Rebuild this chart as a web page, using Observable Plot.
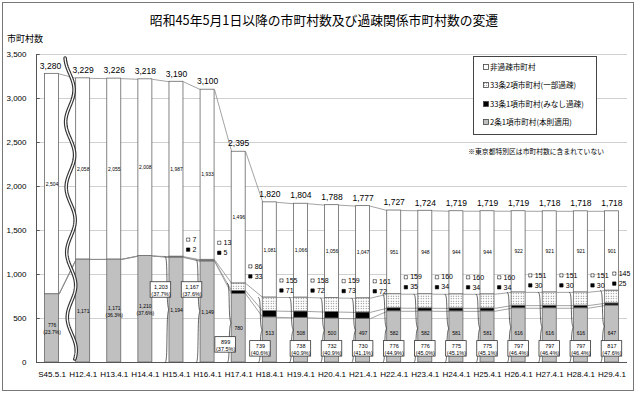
<!DOCTYPE html>
<html><head><meta charset="utf-8">
<script src="https://cdn.jsdelivr.net/npm/d3@7"></script>
<script src="https://cdn.jsdelivr.net/npm/@observablehq/plot@0.6"></script>
<style>
body{margin:0;background:#fff;}
#wrap{position:relative;width:640px;height:395px;overflow:hidden;font-family:"Liberation Sans","Noto Sans CJK JP",sans-serif;color:#000;}
#frame{position:absolute;left:2px;top:2px;width:632px;height:389px;border:1px solid #777;box-sizing:border-box;pointer-events:none;}
#title{position:absolute;left:0;width:648px;top:12px;text-align:center;font-size:12.8px;line-height:16px;font-family:"Noto Sans CJK JP",sans-serif;}
#ylab{position:absolute;left:7px;top:33px;font-size:9px;line-height:12px;font-family:"Noto Sans CJK JP",sans-serif;}
#chart{position:absolute;left:0;top:0;}
#legend{position:absolute;left:473px;top:56px;width:124px;height:79px;border:1px solid #444;background:#fff;box-sizing:border-box;font-size:7.6px;font-family:"Noto Sans CJK JP",sans-serif;}
#legend .it{position:absolute;left:9px;height:10px;line-height:10px;white-space:nowrap;}
#note{position:absolute;right:36px;top:146px;font-size:6.8px;line-height:10px;font-family:"Noto Sans CJK JP",sans-serif;white-space:nowrap;}
</style></head>
<body>
<svg width="0" height="0" style="position:absolute">
  <defs>
    <pattern id="dots" width="2.5" height="2.5" patternUnits="userSpaceOnUse">
      <rect width="2.5" height="2.5" fill="#fff"/>
      <circle cx="1.2" cy="1.2" r="0.55" fill="#666"/>
    </pattern>
  </defs>
</svg>
<div id="wrap">
  <div id="chart"></div>
  <div id="title"></div>
  <div id="ylab"></div>
  <div id="legend"></div>
  <div id="note"></div>
  <div id="frame"></div>
</div>
<script>
// ---- data ----
const titleText = "昭和45年5月1日以降の市町村数及び過疎関係市町村数の変遷";
const yAxisTitle = "市町村数";
const noteText = "※東京都特別区は市町村数に含まれていない";
const categories = ["S45.5.1","H12.4.1","H13.4.1","H14.4.1","H15.4.1","H16.4.1","H17.4.1","H18.4.1","H19.4.1","H20.4.1","H21.4.1","H22.4.1","H23.4.1","H24.4.1","H25.4.1","H26.4.1","H27.4.1","H28.4.1","H29.4.1"];
const totalCount     = [3280,3229,3226,3218,3190,3100,2395,1820,1804,1788,1777,1727,1724,1719,1719,1719,1718,1718,1718];
const nonDepopulated = [2504,2058,2055,2008,1987,1933,1496,1081,1066,1056,1047,951,948,944,944,922,921,921,901];
const art33p2        = [0,0,0,0,7,13,86,155,158,159,161,159,160,160,160,151,151,151,145];   // 33条2項（一部過疎）
const art33p1        = [0,0,0,0,2,5,33,71,72,73,72,35,34,34,34,30,30,30,25];              // 33条1項（みなし過疎）
const art2p1         = [776,1171,1171,1210,1194,1149,780,513,508,500,497,582,582,581,581,616,616,616,647]; // 2条1項（本則適用）
const depopShare     = ["23.7%",null,"36.3%","37.6%","37.7%","37.6%","37.5%","40.6%","40.9%","40.9%","41.1%","44.9%","45.0%","45.1%","45.1%","46.4%","46.4%","46.4%","47.6%"];
const yTicks = [0,500,1000,1500,2000,2500,3000,3500];
const legendLabels = ["非過疎市町村","33条2項市町村(一部過疎)","33条1項市町村(みなし過疎)","2条1項市町村(本則適用)"];

// ---- derived table ----
const fmt = d3.format(",");
const rows = categories.map((c, i) => {
  const h = art2p1[i], m = art33p1[i], p = art33p2[i];
  return {i, c, total: totalCount[i], non: nonDepopulated[i], h, m, p, hm: h + m, depop: h + m + p, share: depopShare[i]};
});
const pairs = rows.slice(0, -1).map((r, k) => ({a: r, b: rows[k + 1]}));
const hw = 0.225;               // half bar width (in band units)
const last = categories.length - 1;
const boxed = rows.filter(d => d.i >= 4);
const boxX = d => d.i <= 5 ? d.i - 0.5 : d.i === 6 ? d.i - 0.42 : d.i === 7 ? d.i - 0.3 : d.i;
const boxY = d => d.i <= 5 ? 824 : d.i === 6 ? 200 : 155;
const grayLabelY = d => d.i >= 7 ? Math.max(d.h / 2, 335) : d.h / 2;
const sideX = d => d.i + hw + 0.15 - (d.i === last ? 0.3 : 0);
const braceX = d => d.i - hw - 0.08;
const braceU = 28;
const braces = boxed.flatMap(d => {
  const x = braceX(d), t = d.depop, mid = d.depop / 2;
  return [
    {k: d.i, x: x - 0.06, y: t}, {k: d.i, x: x, y: t - braceU},
    {k: d.i, x: x, y: mid + braceU}, {k: d.i, x: x + 0.08, y: mid},
    {k: d.i, x: x, y: mid - braceU}, {k: d.i, x: x, y: braceU},
    {k: d.i, x: x - 0.06, y: 0}
  ];
});
// decorative break symbol between S45 and H12
const wave = d3.range(40, 3471, 15).map(y => ({x: 0.56 + 0.14 * Math.sin((3470 - y) / 740 * 2 * Math.PI - Math.PI / 2) + (3470 - y) / 3430 * 0.08, y}));

const linkStyle = {stroke: "#8c8c8c", strokeWidth: 0.8};
const connectors = ["total", "depop", "hm", "h"].map(key =>
  Plot.link(pairs, {x1: d => d.a.i + hw, x2: d => d.b.i - hw, y1: d => d.a[key], y2: d => d.b[key], ...linkStyle})
);
const barStroke = {stroke: "#666", strokeWidth: 0.8};

const chart = Plot.plot({
  width: 640, height: 395,
  marginTop: 54, marginBottom: 33, marginLeft: 36, marginRight: 13,
  x: {type: "linear", domain: [-0.5, 18.5]},
  y: {domain: [0, 3500]},
  style: {fontFamily: "'Liberation Sans','Noto Sans CJK JP',sans-serif", fontSize: "8px", background: "transparent", color: "#000", overflow: "visible"},
  marks: [
    Plot.gridY(yTicks, {stroke: "#c4c4c4", strokeOpacity: 1, strokeWidth: 0.8}),
    ...connectors,
    Plot.rect(rows, {x1: d => d.i - hw, x2: d => d.i + hw, y1: 0, y2: "h", fill: "#c0c0c0", ...barStroke}),
    Plot.rect(rows.filter(d => d.m > 0), {x1: d => d.i - hw, x2: d => d.i + hw, y1: "h", y2: "hm", fill: "#000", ...barStroke}),
    Plot.rect(rows.filter(d => d.p > 0), {x1: d => d.i - hw, x2: d => d.i + hw, y1: "hm", y2: "depop", fill: "url(#dots)", ...barStroke}),
    Plot.rect(rows, {x1: d => d.i - hw, x2: d => d.i + hw, y1: "depop", y2: "total", fill: "#fff", ...barStroke}),
    Plot.line(wave, {x: "x", y: "y", stroke: "#333", strokeWidth: 3.6}),
    Plot.line(wave, {x: "x", y: "y", stroke: "#fff", strokeWidth: 1.3}),
    // axes
    Plot.ruleX([-0.5], {stroke: "#555", strokeWidth: 1}),
    Plot.ruleY([0], {stroke: "#555", strokeWidth: 1}),
    Plot.ruleY(yTicks, {x1: -0.5, x2: -0.38, stroke: "#555"}),
    Plot.axisY(yTicks, {tickSize: 0, tickPadding: 10, tickFormat: fmt, fontSize: 8, label: null}),
    Plot.axisX(d3.range(categories.length), {tickSize: 0, tickPadding: 9, tickFormat: i => categories[i], fontSize: 8, label: null}),
    // labels
    Plot.text(rows, {x: d => d.i - (d.i === 0 ? 0.05 : 0), y: "total", text: d => fmt(d.total), dy: -8, fontSize: 8.5}),
    Plot.text(rows, {x: "i", y: d => (d.depop + d.total) / 2, text: d => fmt(d.non), fontSize: 5}),
    Plot.text(rows, {x: "i", y: grayLabelY, text: d => d.i < 4 && d.share ? `${fmt(d.h)}\n(${d.share})` : fmt(d.h), fontSize: 5, lineHeight: 1.4}),
    // braces and boxed depopulated totals
    Plot.line(braces, {x: "x", y: "y", z: "k", stroke: "#222", strokeWidth: 0.7, curve: "basis"}),
    Plot.rect(boxed, {x1: d => boxX(d) - 0.33, x2: d => boxX(d) + 0.33, y1: d => boxY(d) - 88, y2: d => boxY(d) + 88, fill: "#fff", stroke: "#333", strokeWidth: 0.8}),
    Plot.text(boxed, {x: boxX, y: boxY, text: d => `${fmt(d.depop)}\n(${d.share})`, fontSize: 5.5, lineHeight: 1.3}),
    // small side labels
    Plot.dot(rows.filter(d => d.p > 0), {x: sideX, y: "depop", dy: -17, symbol: "square", r: 1.9, fill: "url(#dots)", stroke: "#444", strokeWidth: 0.6}),
    Plot.text(rows.filter(d => d.p > 0), {x: d => sideX(d) + 0.14, y: "depop", dy: -17, text: "p", textAnchor: "start", fontSize: 7}),
    Plot.dot(rows.filter(d => d.m > 0), {x: sideX, y: "depop", dy: -7, symbol: "square", r: 1.9, fill: "#000", stroke: "#000", strokeWidth: 0.6}),
    Plot.text(rows.filter(d => d.m > 0), {x: d => sideX(d) + 0.14, y: "depop", dy: -7, text: "m", textAnchor: "start", fontSize: 7})
  ]
});
document.getElementById("chart").append(chart);
document.getElementById("title").textContent = titleText;
document.getElementById("ylab").textContent = yAxisTitle;
document.getElementById("note").textContent = noteText;
const swatches = ["#fff", "url(#dots)", "#000", "#c0c0c0"];
const legend = document.getElementById("legend");
legendLabels.forEach((lab, k) => {
  const it = document.createElement("div");
  it.className = "it";
  it.style.top = (5 + k * 18.3) + "px";
  const sw = document.createElementNS("http://www.w3.org/2000/svg", "svg");
  sw.setAttribute("width", 6); sw.setAttribute("height", 6);
  sw.style.marginRight = "1px"; sw.style.verticalAlign = "0px";
  const r = document.createElementNS("http://www.w3.org/2000/svg", "rect");
  r.setAttribute("x", 0.5); r.setAttribute("y", 0.5); r.setAttribute("width", 5); r.setAttribute("height", 5);
  r.setAttribute("fill", swatches[k]); r.setAttribute("stroke", "#444"); r.setAttribute("stroke-width", 0.8);
  sw.append(r);
  it.append(sw, document.createTextNode(lab));
  legend.append(it);
});
</script>
</body></html>
